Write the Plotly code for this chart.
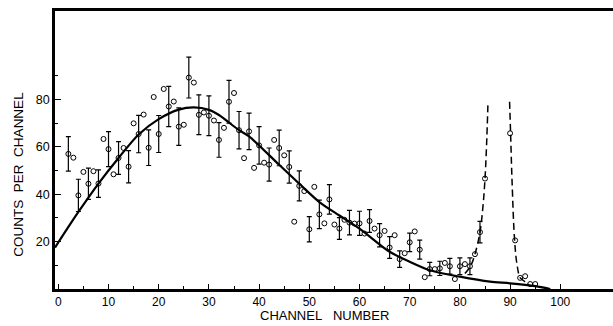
import plotly.graph_objects as go

# Counts per channel: even channels carry error bars, odd channels are plain points
even_channels = [2, 4, 6, 8, 10, 12, 14, 16, 18, 20, 22, 24, 26, 28, 30, 32, 34, 36, 38, 40,
                 42, 44, 46, 48, 50, 52, 54, 56, 58, 60, 62, 64, 66, 68, 70, 72, 74, 76, 78, 80,
                 82, 84]
even_counts = [57.0, 39.5, 44.4, 44.5, 59.0, 55.3, 51.6, 65.4, 59.6, 65.4, 77.0, 68.5, 89.2, 73.5,
               73.1, 62.9, 79.0, 67.0, 66.5, 60.6, 52.5, 59.5, 51.5, 43.5, 25.2, 31.5, 37.8, 25.5,
               28.0, 27.7, 28.7, 22.7, 17.5, 12.6, 19.7, 16.6, 8.4, 8.7, 9.6, 9.6, 9.6, 24.0]
even_errors = [7.3, 6.8, 6.6, 5.8, 7.4, 6.9, 6.8, 7.9, 7.5, 7.8, 8.5, 7.9, 8.6, 8.4,
               8.4, 7.3, 9.0, 7.9, 7.7, 7.9, 7.0, 7.5, 6.8, 6.3, 5.3, 6.0, 6.2, 4.6,
               5.2, 5.1, 4.8, 4.9, 4.6, 3.5, 3.9, 4.0, 2.8, 3.0, 3.3, 3.5, 3.5, 4.5]

odd_channels = [3, 5, 7, 9, 11, 13, 15, 17, 19, 21, 23, 25, 27, 29, 31, 33, 35, 37, 39, 41,
                43, 45, 47, 49, 51, 53, 55, 57, 59, 61, 63, 65, 67, 69, 71, 73, 75, 77, 79, 81,
                83, 85]
odd_counts = [55.4, 49.4, 49.7, 63.3, 48.4, 59.5, 69.9, 73.6, 81.0, 84.4, 79.1, 69.3, 87.1, 74.5,
              71.1, 68.0, 82.7, 55.2, 51.1, 53.3, 62.9, 56.4, 28.4, 41.3, 43.1, 27.7, 27.2, 29.2,
              27.6, 23.4, 25.5, 24.5, 22.7, 15.1, 24.3, 5.0, 8.4, 11.0, 4.2, 10.5, 14.7, 46.6]

tail_channels = [90, 91, 92, 93, 94, 95]
tail_counts = [65.7, 20.5, 4.7, 5.4, 2.1, 2.1]

# Smooth continuum fit
fit_channels = [-0.66, 4, 8, 12, 16, 20, 24, 27, 30, 32, 36, 38, 44, 48, 52, 56, 60, 66, 70,
                74, 80, 86, 90, 95, 98]
fit_counts = [17.5, 32.5, 44.5, 55.3, 65.2, 71.7, 75.7, 76.6, 75.6, 73.4, 67.0, 64.4, 52.4,
              44.4, 36.7, 31.0, 25.5, 15.7, 11.5, 7.9, 5.2, 3.1, 2.4, 1.2, 0.0]

# Dashed guides for the two sharp peaks
peak1_channels = [81.0, 82.2, 83.0, 84.0, 84.6, 85.0, 85.3, 85.6]
peak1_counts = [6.5, 10.0, 14.7, 24.0, 35.0, 46.5, 60.0, 79.0]
peak2_channels = [89.9, 90.1, 90.4, 90.9, 91.4, 92.0, 93.0, 93.8]
peak2_counts = [79.0, 65.7, 45.0, 20.5, 10.0, 4.8, 3.0, 1.6]

x_ticks = [0, 10, 20, 30, 40, 50, 60, 70, 80, 90, 100]
x_minor = [5, 15, 25, 35, 45, 55, 65, 75, 85, 95]
y_ticks = [20, 40, 60, 80]
y_minor = [10, 30, 50, 70, 90]

FONT = "Liberation Sans, Arial, sans-serif"
marker = dict(symbol="circle-open", size=5, color="black", line=dict(width=1, color="black"))

fig = go.Figure()
fig.add_trace(go.Scatter(x=fit_channels, y=fit_counts, mode="lines",
                         line=dict(color="black", width=2.2, shape="spline", smoothing=0.8),
                         hoverinfo="skip"))
fig.add_trace(go.Scatter(x=peak1_channels, y=peak1_counts, mode="lines",
                         line=dict(color="black", width=1.5, dash="7px,4px", shape="spline"),
                         hoverinfo="skip"))
fig.add_trace(go.Scatter(x=peak2_channels, y=peak2_counts, mode="lines",
                         line=dict(color="black", width=1.5, dash="7px,4px", shape="spline"),
                         hoverinfo="skip"))
fig.add_trace(go.Scatter(x=even_channels, y=even_counts, mode="markers", marker=marker,
                         error_y=dict(type="data", array=even_errors, visible=True,
                                      color="black", thickness=1.2, width=2.5)))
fig.add_trace(go.Scatter(x=odd_channels, y=odd_counts, mode="markers", marker=marker))
fig.add_trace(go.Scatter(x=tail_channels, y=tail_counts, mode="markers", marker=marker))

fig.update_layout(
    width=613, height=326,
    margin=dict(l=55, r=0, t=11, b=37),
    paper_bgcolor="white", plot_bgcolor="white",
    showlegend=False,
    font=dict(family=FONT, size=12, color="black"),
    xaxis=dict(range=[-0.66, 110.5], showgrid=False, zeroline=False,
               showline=True, linewidth=2.5, linecolor="black", mirror=True,
               ticks="inside", ticklen=5, tickwidth=1.2, tickcolor="black",
               tickvals=x_ticks, ticktext=[str(v) for v in x_ticks],
               tickfont=dict(size=12),
               minor=dict(tickvals=x_minor, ticks="inside", ticklen=3, tickwidth=1,
                          tickcolor="black")),
    yaxis=dict(range=[0, 117.3], showgrid=False, zeroline=False,
               showline=True, linewidth=2.5, linecolor="black",
               ticks="inside", ticklen=6, tickwidth=1.2, tickcolor="black",
               tickvals=y_ticks, ticktext=[str(v) for v in y_ticks],
               tickfont=dict(size=12.5),
               minor=dict(tickvals=y_minor, ticks="inside", ticklen=3, tickwidth=1,
                          tickcolor="black")),
    annotations=[
        dict(text="CHANNEL\u00a0\u00a0\u00a0NUMBER", xref="paper", yref="paper",
             x=0.483, y=-0.096, xanchor="center", yanchor="middle", showarrow=False,
             font=dict(family=FONT, size=13)),
        dict(text="COUNTS\u00a0\u00a0PER\u00a0\u00a0CHANNEL", xref="paper", yref="paper",
             x=-0.065, y=0.414, xanchor="center", yanchor="middle", showarrow=False,
             textangle=-90, font=dict(family=FONT, size=13.5)),
    ],
)

fig.write_html("out.html")
